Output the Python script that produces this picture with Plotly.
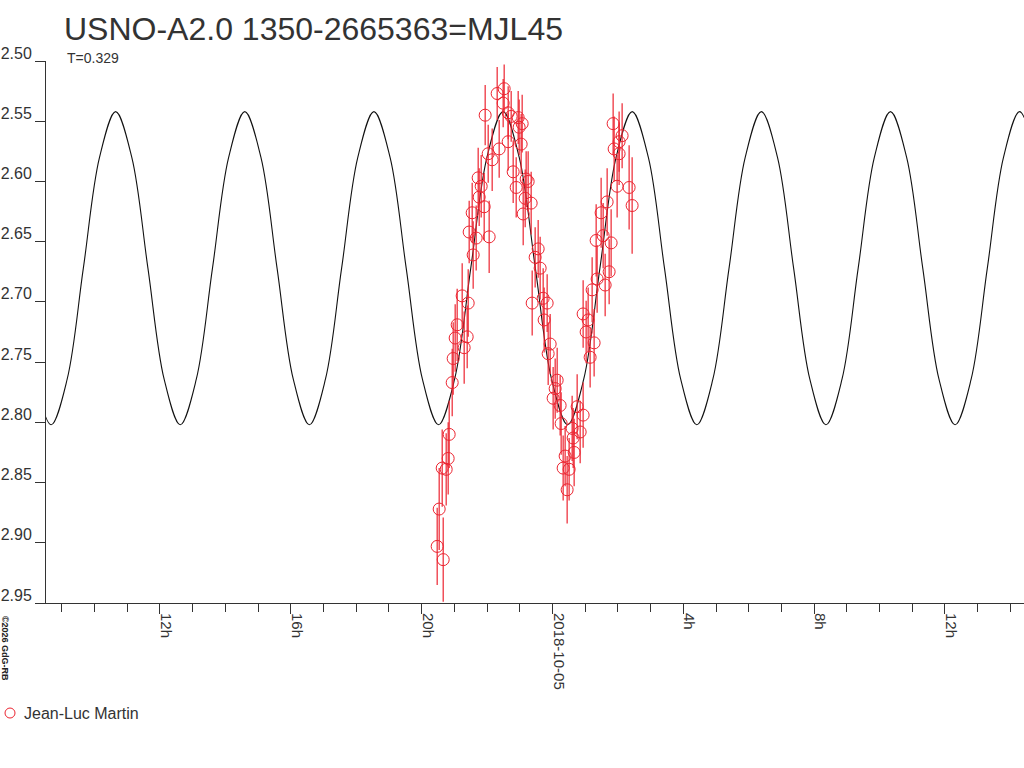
import plotly.graph_objects as go

# observations (hours since 2018-10-04 00:00 UT, magnitude, error)
obs_hours = [20.476, 20.537, 20.629, 20.660, 20.751, 20.812, 20.843, 20.935, 20.965, 21.026,
             21.087, 21.240, 21.301, 21.393, 21.424, 21.454, 21.546, 21.576, 21.668, 21.729,
             21.760, 21.821, 21.913, 21.943, 22.035, 22.065, 22.157, 22.310, 22.371, 22.493,
             22.524, 22.646, 22.646, 22.738, 22.799, 22.891, 22.952, 22.982, 23.043, 23.074,
             23.105, 23.166, 23.196, 23.257, 23.349, 23.380, 23.471, 23.563, 23.624, 23.716,
             23.746, 23.838, 23.869, 23.930, 24.021, 24.083, 24.144, 24.235, 24.266, 24.327,
             24.388, 24.449, 24.510, 24.602, 24.633, 24.663, 24.755, 24.847, 24.938, 24.938,
             25.030, 25.091, 25.152, 25.213, 25.274, 25.336, 25.366, 25.488, 25.550, 25.611,
             25.672, 25.733, 25.794, 25.855, 25.886, 25.977, 26.038, 26.038, 26.130, 26.344,
             26.436]
obs_mag = [2.903, 2.872, 2.838, 2.914, 2.839, 2.830, 2.810, 2.767, 2.747, 2.730,
           2.719, 2.695, 2.738, 2.729, 2.701, 2.642, 2.626, 2.661, 2.647, 2.597,
           2.613, 2.604, 2.621, 2.545, 2.577, 2.646, 2.582, 2.527, 2.573, 2.535,
           2.523, 2.543, 2.567, 2.546, 2.592, 2.605, 2.547, 2.555, 2.569, 2.552,
           2.627, 2.614, 2.598, 2.600, 2.618, 2.701, 2.663, 2.656, 2.672, 2.697,
           2.715, 2.701, 2.743, 2.735, 2.780, 2.772, 2.765, 2.786, 2.801, 2.838,
           2.828, 2.856, 2.839, 2.805, 2.813, 2.825, 2.787, 2.808, 2.794, 2.710,
           2.725, 2.715, 2.746, 2.690, 2.734, 2.649, 2.681, 2.626, 2.645, 2.686,
           2.617, 2.675, 2.651, 2.552, 2.573, 2.604, 2.567, 2.577, 2.562, 2.605,
           2.620]
obs_err = [0.032, 0.034, 0.032, 0.035, 0.030, 0.030, 0.028, 0.028, 0.030, 0.028,
           0.030, 0.027, 0.030, 0.026, 0.028, 0.026, 0.025, 0.028, 0.027, 0.025,
           0.024, 0.026, 0.028, 0.025, 0.024, 0.030, 0.026, 0.022, 0.024, 0.020,
           0.020, 0.022, 0.024, 0.021, 0.026, 0.025, 0.022, 0.023, 0.025, 0.024,
           0.026, 0.024, 0.023, 0.025, 0.026, 0.027, 0.025, 0.024, 0.026, 0.025,
           0.027, 0.024, 0.026, 0.025, 0.026, 0.025, 0.027, 0.025, 0.026, 0.027,
           0.025, 0.028, 0.026, 0.027, 0.025, 0.028, 0.027, 0.026, 0.027, 0.028,
           0.026, 0.027, 0.025, 0.027, 0.028, 0.030, 0.028, 0.029, 0.027, 0.026,
           0.028, 0.027, 0.028, 0.025, 0.027, 0.026, 0.025, 0.026, 0.027, 0.035,
           0.040]

# fitted light curve (extrema and in-between points)
fit_hours = [8.179, 8.672, 9.166, 9.659, 10.153, 10.646, 11.140, 11.633, 12.127, 12.620,
             13.114, 13.607, 14.101, 14.594, 15.088, 15.581, 16.075, 16.568, 17.062, 17.555,
             18.049, 18.542, 19.036, 19.529, 20.023, 20.516, 21.010, 21.503, 21.997, 22.490,
             22.984, 23.477, 23.971, 24.464, 24.958, 25.451, 25.945, 26.438, 26.932, 27.425,
             27.919, 28.412, 28.906, 29.399, 29.893, 30.386, 30.880, 31.373, 31.867, 32.360,
             32.854, 33.347, 33.841, 34.334, 34.828, 35.321, 35.815, 36.308, 36.802, 37.295,
             37.789, 38.282, 38.776]
fit_mag = [2.764, 2.802, 2.764, 2.672, 2.580, 2.542, 2.580, 2.672, 2.764, 2.802,
           2.764, 2.672, 2.580, 2.542, 2.580, 2.672, 2.764, 2.802, 2.764, 2.672,
           2.580, 2.542, 2.580, 2.672, 2.764, 2.802, 2.764, 2.672, 2.580, 2.542,
           2.580, 2.672, 2.764, 2.802, 2.764, 2.672, 2.580, 2.542, 2.580, 2.672,
           2.764, 2.802, 2.764, 2.672, 2.580, 2.542, 2.580, 2.672, 2.764, 2.802,
           2.764, 2.672, 2.580, 2.542, 2.580, 2.672, 2.764, 2.802, 2.764, 2.672,
           2.580, 2.542, 2.580]

x_ticks = [12, 16, 20, 24, 28, 32, 36]
x_labels = ['12h', '16h', '20h', '2018-10-05', '4h', '8h', '12h']
y_ticks = [2.50, 2.55, 2.60, 2.65, 2.70, 2.75, 2.80, 2.85, 2.90, 2.95]
y_labels = ['2.50', '2.55', '2.60', '2.65', '2.70', '2.75', '2.80', '2.85', '2.90', '2.95']
observer = 'Jean-Luc Martin'

red = '#ec2430'
font = 'Liberation Sans, Arial, sans-serif'

fig = go.Figure()
fig.add_trace(go.Scatter(x=fit_hours, y=fit_mag, mode='lines', line=dict(color='#111', width=1.1, shape='spline'),
                         showlegend=False, hoverinfo='skip'))
fig.add_trace(go.Scatter(x=obs_hours, y=obs_mag, mode='markers', name=observer, showlegend=False,
                         marker=dict(symbol='circle-open', size=12, color=red, line=dict(width=1, color=red)),
                         error_y=dict(type='data', array=obs_err, color=red, thickness=1.2, width=0)))

fig.update_xaxes(range=[8.517, 38.416], tickvals=x_ticks, ticktext=x_labels, tickangle=90,
                 ticks='outside', ticklen=10, tickcolor='#333', showline=True, linecolor='#333', linewidth=1,
                 showgrid=False, zeroline=False, ticklabelshift=6, ticklabelstandoff=-4, automargin=False,
                 minor=dict(dtick=1, tick0=0, ticks='outside', ticklen=8, tickcolor='#333'),
                 tickfont=dict(family=font, size=15, color='#333'))
fig.update_yaxes(range=[2.95, 2.50], tickvals=y_ticks, ticktext=y_labels,
                 ticks='outside', ticklen=10, tickcolor='#333', showline=True, linecolor='#333', linewidth=1,
                 showgrid=False, zeroline=False, ticklabelshift=8, automargin=False,
                 tickfont=dict(family=font, size=16, color='#333'))

fig.add_annotation(text='T=0.329', xref='paper', yref='paper', x=0.0194, y=1.0055,
                   xanchor='left', yanchor='middle', showarrow=False,
                   font=dict(family=font, size=14, color='#333'))
fig.add_annotation(text='<b>©2026 GdG-RB</b>', xref='paper', yref='paper', x=-0.0419, y=-0.083,
                   textangle=90, xanchor='center', yanchor='middle', showarrow=False,
                   font=dict(family=font, size=9, color='#222'))

# legend entry drawn by hand so the symbol and name sit as in the original
fig.add_shape(type='circle', xref='paper', yref='paper', xsizemode='pixel', ysizemode='pixel',
              xanchor=-0.0368, yanchor=-0.2030, x0=-5, x1=5, y0=-5, y1=5,
              line=dict(color=red, width=1))
fig.add_annotation(text=observer, xref='paper', yref='paper', x=-0.0245, y=-0.2030,
                   xanchor='left', yanchor='middle', showarrow=False,
                   font=dict(family=font, size=16, color='#333'))

fig.update_layout(
    width=1024, height=768,
    margin=dict(l=46, r=0, t=61, b=165, autoexpand=False),
    paper_bgcolor='white', plot_bgcolor='white',
    title=dict(text='USNO-A2.0 1350-2665363=MJL45', xref='container', yref='container',
               x=64 / 1024, y=1 - 29 / 768, xanchor='left', yanchor='middle',
               font=dict(family=font, size=32, color='#333')),
    showlegend=False,
)

fig.write_html('out.html', config={'displayModeBar': False},
               post_script="document.body.style.margin='0';")
